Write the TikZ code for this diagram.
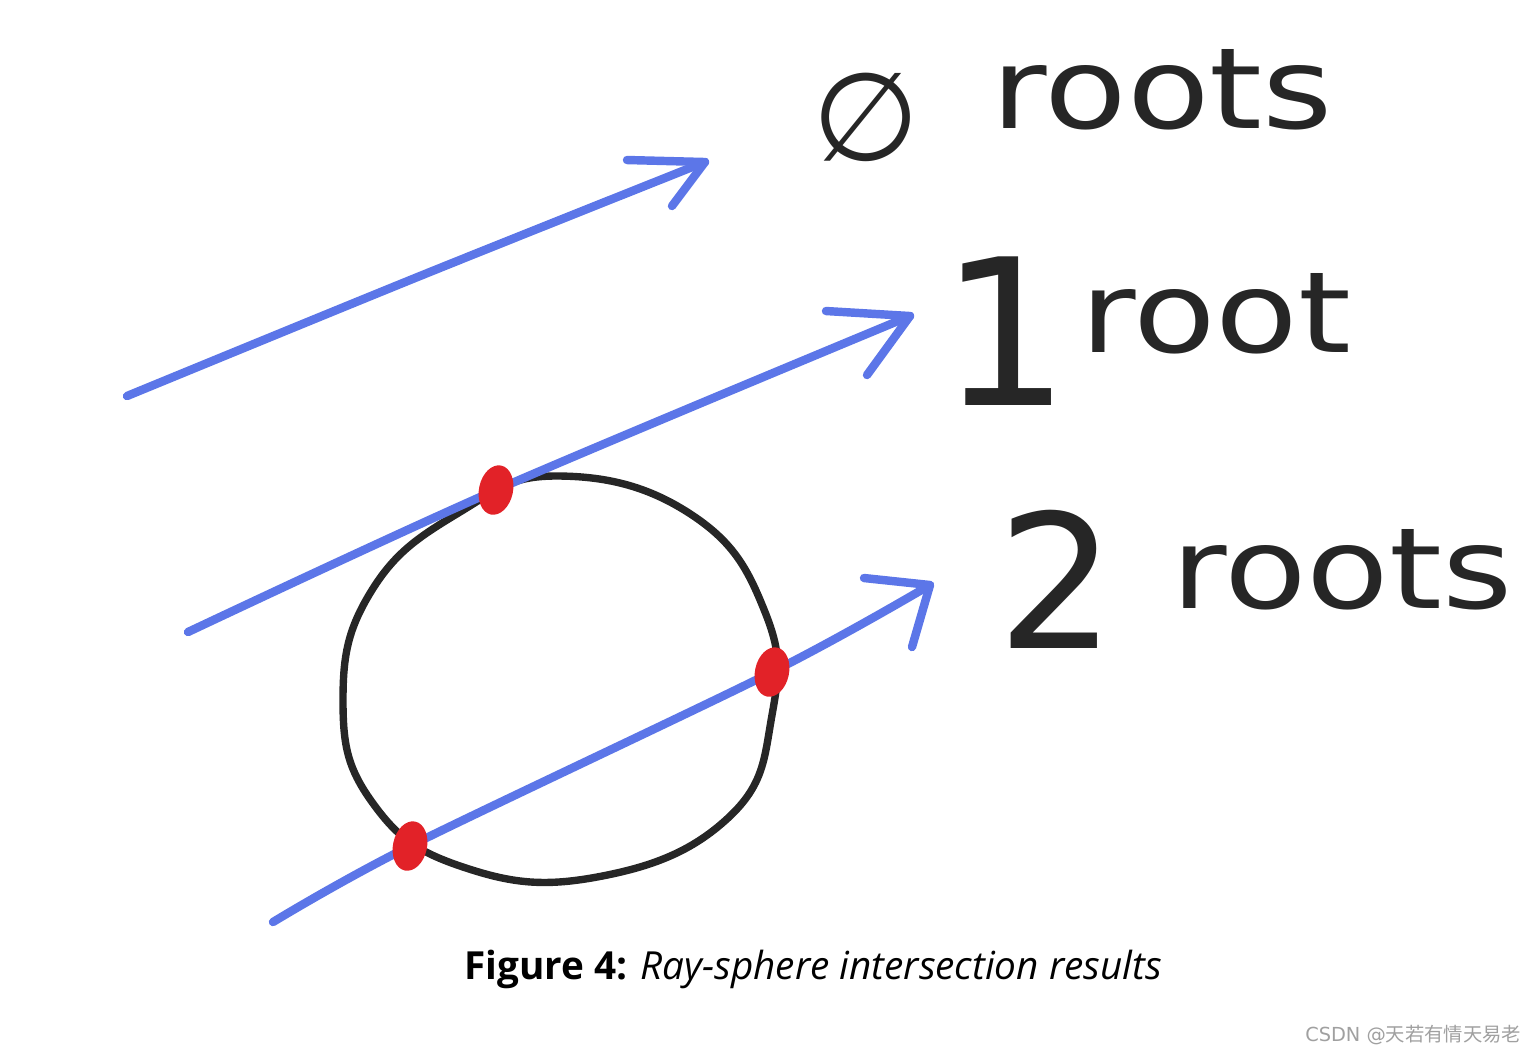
\documentclass[tikz,border=0pt]{standalone}
\usepackage{graphicx}
\usepackage{fontspec}
\setmainfont{DejaVu Sans}
\newfontfamily\capfont{Open Sans}
\newfontfamily\cjkfont{Noto Sans CJK SC}
\usetikzlibrary{shapes.geometric}

\definecolor{raycol}{RGB}{92,118,232}
\definecolor{dotcol}{RGB}{226,34,40}
\definecolor{inkcol}{RGB}{38,38,38}
\definecolor{markgray}{RGB}{160,160,160}

\newcommand{\bigdigit}[3]{\raisebox{#3}{\fontsize{#2}{#2}\selectfont #1}}
\newcommand{\handword}[1]{\scalebox{1.2}[1]{#1}}

\tikzset{
  ray/.style={raycol, line width=2.4pt, line cap=round, line join=round},
  hit/.style={ellipse, fill=dotcol, minimum width=0.34cm, minimum height=0.5cm, inner sep=0pt},
  hand/.style={inkcol, font=\fontsize{32}{36}\selectfont, inner sep=0pt, anchor=base west},
}

\begin{document}
\begin{tikzpicture}[x=0.01cm, y=-0.01cm]
  \useasboundingbox (0,0) rectangle (1537,1053);

  % Rays: start, bend, tip, arrow arms
  \coordinate (r1s) at (127,396);
  \coordinate (r1m) at (420,276);
  \coordinate (r1e) at (705,162);
  \coordinate (r1a) at (627,160);
  \coordinate (r1b) at (672,206);

  \coordinate (r2s) at (188,632);
  \coordinate (r2e) at (910,316);
  \coordinate (r2a) at (826,311);
  \coordinate (r2b) at (867,375);

  \coordinate (r3s) at (273,922);
  \coordinate (r3e) at (930,585);
  \coordinate (r3a) at (864,578);
  \coordinate (r3b) at (912,647);

  % Hit points
  \coordinate (p1) at (496,490);
  \coordinate (p2) at (772,672);
  \coordinate (p3) at (410,846);

  % Sphere
  \draw[inkcol, line width=2.1pt] plot[smooth cycle, tension=0.75] coordinates {
    (560,476) (692,515) (765,612) (772,715) (728,818) (597,877)
    (463,867) (372,802) (343,700) (372,590) (460,512)};

  \draw[ray] plot[smooth] coordinates {(r1s) (r1m) (r1e)};
  \draw[ray] (r1a) -- (r1e) -- (r1b);

  \draw[ray] plot[smooth] coordinates {(r2s) (p1) (r2e)};
  \draw[ray] (r2a) -- (r2e) -- (r2b);

  \draw[ray] plot[smooth] coordinates {(r3s) (p3) (p2) (r3e)};
  \draw[ray] (r3a) -- (r3e) -- (r3b);

  \node[hit, rotate=-12] (h1) at (p1) {};
  \node[hit, rotate=-12] (h2) at (p2) {};
  \node[hit, rotate=-12] (h3) at (p3) {};

  % Labels
  \node[hand] (none) at (812,128) {\raisebox{-0.32cm}{\fontsize{35}{36}\selectfont ∅}\hspace{0.72cm}\handword{roots}};
  \node[hand] (one) at (940,352) {\bigdigit{1}{58}{-0.53cm}\hspace{0.1cm}\handword{root}};
  \node[hand] (two) at (997,608) {\bigdigit{2}{53}{-0.4cm}\hspace{0.55cm}\handword{roots}};

  % Caption and mark
  \node[inner sep=0pt, font=\capfont\fontsize{11}{13}\selectfont] (cap) at (813,969)
    {\textbf{Figure 4:} \textit{Ray-sphere intersection results}};
  \node[anchor=east, inner sep=0pt, markgray, font=\fontsize{5.5}{7}\selectfont] (mark) at (1522,1035)
    {CSDN @{\cjkfont 天若有情天易老}};
\end{tikzpicture}
\end{document}
